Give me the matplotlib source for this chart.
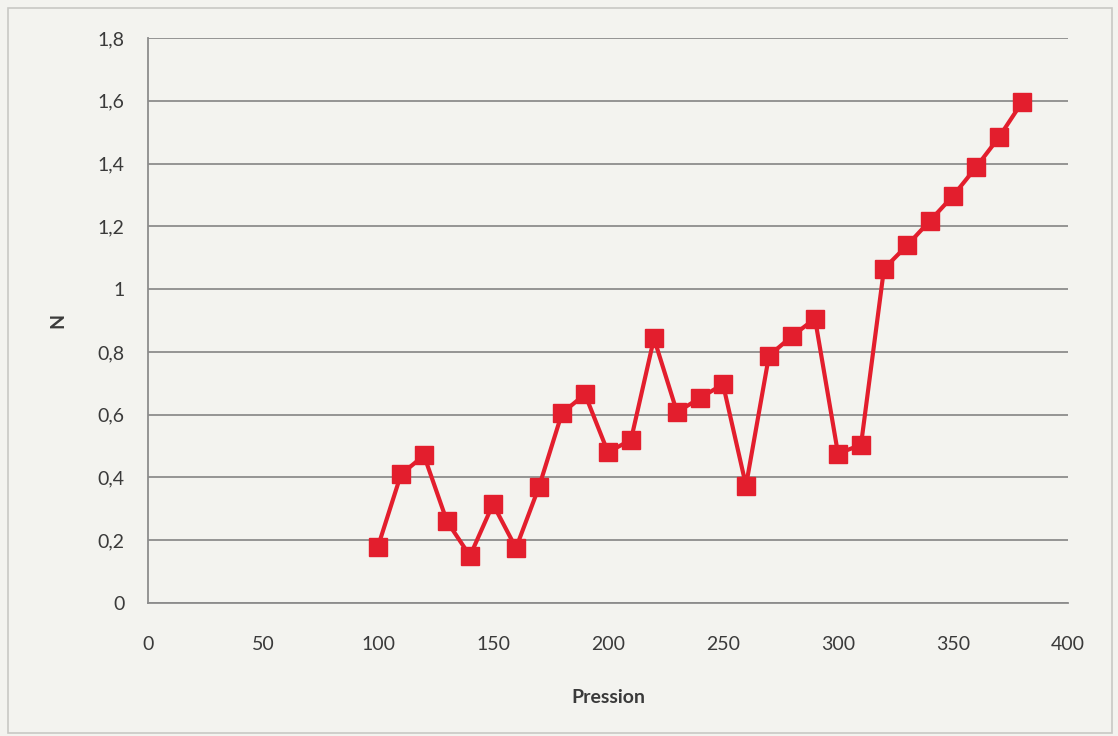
import numpy as np
import matplotlib
matplotlib.use("Agg")
import matplotlib.pyplot as plt
from matplotlib.ticker import FuncFormatter, MultipleLocator
from matplotlib.patches import Rectangle

# --- données ---
pression = [100, 110, 120, 130, 140, 150, 160, 170, 180, 190, 200, 210, 220, 230, 240,
            250, 260, 270, 280, 290, 300, 310, 320, 330, 340, 350, 360, 370, 380]
n_values = [0.18, 0.41, 0.47, 0.26, 0.15, 0.315, 0.175, 0.37, 0.605, 0.665, 0.48, 0.52, 0.843, 0.608, 0.653,
            0.697, 0.374, 0.788, 0.85, 0.906, 0.476, 0.504, 1.065, 1.139, 1.218, 1.297, 1.388, 1.484, 1.595]

BG = "#f3f3ef"
RED = "#e31e2d"
TXT = "#3a3a3a"

plt.rcParams['font.family'] = ['Lato', 'DejaVu Sans']

fig = plt.figure(figsize=(11.18, 7.36), dpi=100, facecolor=BG)
ax = fig.add_axes([148 / 1118, 1 - 603 / 736, 920 / 1118, 565 / 736])
ax.set_facecolor(BG)

# bordure de la zone de graphique
fig.patches.append(Rectangle((8 / 1118, 3 / 736), 1104 / 1118, 725 / 736, transform=fig.transFigure,
                             fill=False, edgecolor="#c8c8c4", linewidth=1.2))

ax.plot(pression, n_values, color=RED, linewidth=3, marker='s', markersize=12.5,
        markerfacecolor=RED, markeredgecolor=RED, zorder=3)

ax.set_xlim(0, 400)
ax.set_ylim(0, 1.8)
ax.xaxis.set_major_locator(MultipleLocator(50))
ax.yaxis.set_major_locator(MultipleLocator(0.2))
fmt = FuncFormatter(lambda v, p: ("%g" % round(v, 2)).replace('.', ','))
ax.yaxis.set_major_formatter(fmt)

ax.grid(True, axis='y', color="#8c8c8c", linewidth=1.3)
ax.set_axisbelow(True)

for s in ['top', 'right']:
    ax.spines[s].set_visible(False)
for s in ['left', 'bottom']:
    ax.spines[s].set_color("#8c8c8c")
    ax.spines[s].set_linewidth(1.3)

ax.tick_params(axis='both', length=0, labelsize=14, colors=TXT)
ax.tick_params(axis='y', pad=17)
ax.tick_params(axis='x', pad=24)

ax.set_xlabel("Pression", fontsize=14, fontweight='bold', color=TXT, labelpad=26)
ax.set_ylabel("N", fontsize=14, fontweight='bold', color=TXT, labelpad=22)

fig.savefig("out.png", dpi=100, facecolor=BG)
